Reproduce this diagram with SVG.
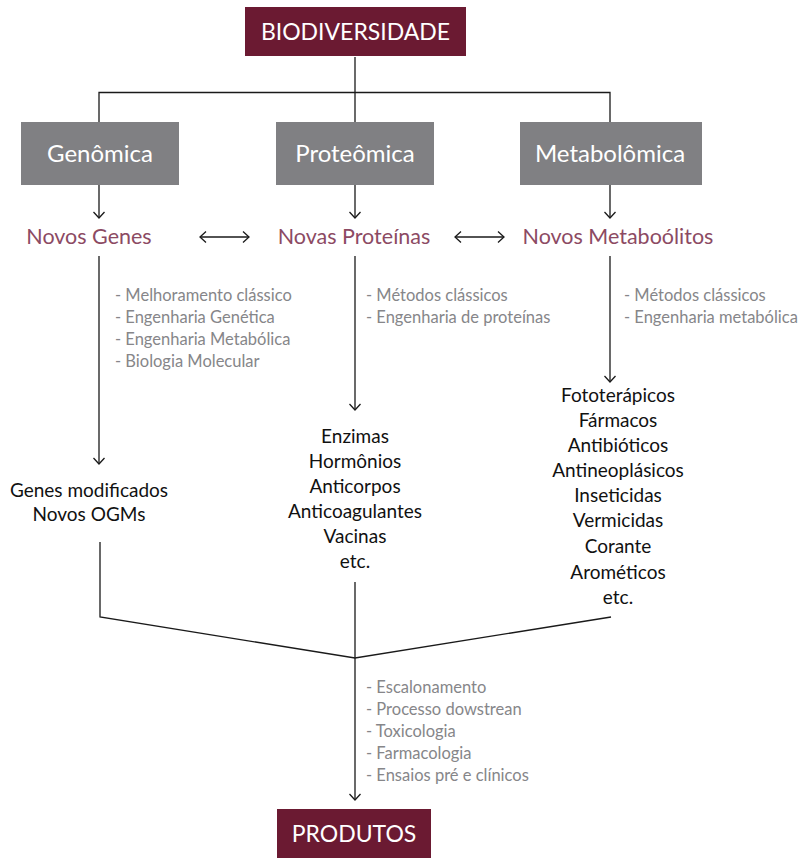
<svg xmlns="http://www.w3.org/2000/svg" width="804" height="858" viewBox="0 0 804 858">
<defs>
<style>
.bg{fill:#ffffff}
.dark{fill:#6b1a32}
.grey{fill:#808083}
.ttl{font-family:Lato,"Liberation Sans",sans-serif;font-size:24px;fill:#ffffff;text-anchor:middle}
.up{font-size:23px}
.lab{font-family:Lato,"Liberation Sans",sans-serif;font-size:21.5px;fill:#8c4a63;text-anchor:middle}
.lst{font-family:Lato,"Liberation Sans",sans-serif;font-size:16.5px;fill:#868689}
.prd{font-family:Lato,"Liberation Sans",sans-serif;font-size:19px;fill:#111111;text-anchor:middle}
.ln{fill:none;stroke:#1a1a1a;stroke-width:1.3}
</style>
<marker id="ah" viewBox="-7 -7 14 14" markerWidth="14" markerHeight="14" markerUnits="userSpaceOnUse" orient="auto-start-reverse" refX="0" refY="0">
<path d="M-6,-5.5 L0,0 L-6,5.5" fill="none" stroke="#1a1a1a" stroke-width="1.3"/>
</marker>
</defs>
<rect class="bg" x="0" y="0" width="804" height="858"/>

<g id="connectors">
<path class="ln" d="M355,57 V122"/>
<path class="ln" d="M99,122 V92.5 H610 V122"/>
<path class="ln" d="M99,185 V218" marker-end="url(#ah)"/>
<path class="ln" d="M355,185 V218" marker-end="url(#ah)"/>
<path class="ln" d="M610,185 V218" marker-end="url(#ah)"/>
<path class="ln" d="M200,237 H249" marker-start="url(#ah)" marker-end="url(#ah)"/>
<path class="ln" d="M455,237 H504" marker-start="url(#ah)" marker-end="url(#ah)"/>
<path class="ln" d="M99,256 V464" marker-end="url(#ah)"/>
<path class="ln" d="M355,256 V410" marker-end="url(#ah)"/>
<path class="ln" d="M610,256 V382" marker-end="url(#ah)"/>
<path class="ln" d="M100,542 V617 L355,658 L611,617"/>
<path class="ln" d="M355,582 V800" marker-end="url(#ah)"/>
</g>

<g id="biodiversidade">
<rect class="dark" x="245" y="7" width="221" height="49"/>
<text class="ttl up" x="355.5" y="40">BIODIVERSIDADE</text>
</g>

<g id="genomica">
<rect class="grey" x="21" y="122" width="158" height="63"/>
<text class="ttl" x="100" y="162">Genômica</text>
</g>
<g id="proteomica">
<rect class="grey" x="276" y="122" width="158" height="63"/>
<text class="ttl" x="355" y="162">Proteômica</text>
</g>
<g id="metabolomica">
<rect class="grey" x="520" y="122" width="182" height="63"/>
<text class="ttl" x="610" y="162">Metabolômica</text>
</g>

<g id="novos-genes">
<text class="lab" x="89" y="244">Novos Genes</text>
</g>
<g id="novas-proteinas">
<text class="lab" x="354" y="244">Novas Proteínas</text>
</g>
<g id="novos-metabolitos">
<text class="lab" x="618" y="244">Novos Metaboólitos</text>
</g>

<g id="metodos-genes">
<text class="lst" x="115" y="301">- Melhoramento clássico</text>
<text class="lst" x="115" y="323">- Engenharia Genética</text>
<text class="lst" x="115" y="345">- Engenharia Metabólica</text>
<text class="lst" x="115" y="367">- Biologia Molecular</text>
</g>
<g id="metodos-proteinas">
<text class="lst" x="366" y="301">- Métodos clássicos</text>
<text class="lst" x="366" y="323">- Engenharia de proteínas</text>
</g>
<g id="metodos-metabolitos">
<text class="lst" x="624" y="301">- Métodos clássicos</text>
<text class="lst" x="624" y="323">- Engenharia metabólica</text>
</g>

<g id="produtos-genes">
<text class="prd" x="89" y="497">Genes modificados</text>
<text class="prd" x="89" y="521">Novos OGMs</text>
</g>
<g id="produtos-proteinas">
<text class="prd" x="355" y="443">Enzimas</text>
<text class="prd" x="355" y="468">Hormônios</text>
<text class="prd" x="355" y="493">Anticorpos</text>
<text class="prd" x="355" y="518">Anticoagulantes</text>
<text class="prd" x="355" y="543">Vacinas</text>
<text class="prd" x="355" y="568">etc.</text>
</g>
<g id="produtos-metabolitos">
<text class="prd" x="618" y="402">Fototerápicos</text>
<text class="prd" x="618" y="427">Fármacos</text>
<text class="prd" x="618" y="452">Antibióticos</text>
<text class="prd" x="618" y="477">Antineoplásicos</text>
<text class="prd" x="618" y="502">Inseticidas</text>
<text class="prd" x="618" y="527">Vermicidas</text>
<text class="prd" x="618" y="553">Corante</text>
<text class="prd" x="618" y="579">Arométicos</text>
<text class="prd" x="618" y="604">etc.</text>
</g>

<g id="etapas">
<text class="lst" x="366" y="693">- Escalonamento</text>
<text class="lst" x="366" y="715">- Processo dowstrean</text>
<text class="lst" x="366" y="737">- Toxicologia</text>
<text class="lst" x="366" y="759">- Farmacologia</text>
<text class="lst" x="366" y="781">- Ensaios pré e clínicos</text>
</g>

<g id="produtos">
<rect class="dark" x="277" y="809" width="154" height="49"/>
<text class="ttl up" x="354" y="842">PRODUTOS</text>
</g>
</svg>
